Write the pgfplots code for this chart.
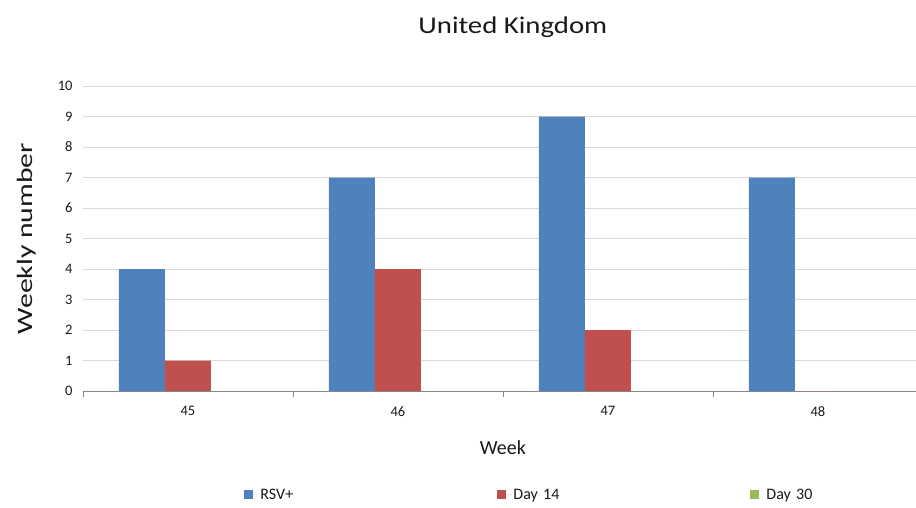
\documentclass[border=0pt]{standalone}
\usepackage{pgfplots}
\pgfplotsset{compat=1.18}
\usepackage{fontspec}
\setmainfont{Carlito}
\definecolor{cBlue}{HTML}{4F81BD}
\definecolor{cRed}{HTML}{C0504D}
\definecolor{cGreen}{HTML}{9BBB59}
\definecolor{cGrid}{HTML}{D9D9D9}
\definecolor{cAxis}{HTML}{878787}
\begin{document}
\begin{tikzpicture}
\useasboundingbox (-83pt,-116pt) rectangle (833pt,391pt);
\begin{axis}[
  scale only axis,
  width=833pt, height=305pt,
  ybar, bar width=46pt, ybar=0pt,
  xmin=-0.5, xmax=3.467,
  ymin=0, ymax=10,
  ytick={0,1,...,10},
  xtick={0,1,2,3},
  xticklabels={45,46,47,48},
  extra x ticks={-0.5,0.5,1.5,2.5},
  extra x tick labels={},
  extra x tick style={major tick length=6pt, tick align=outside, grid=none, tick style={cAxis, line width=0.8pt}},
  axis lines*=left,
  x axis line style={cAxis, line width=0.8pt, -},
  y axis line style={draw=none},
  major tick length=0pt,
  ymajorgrids,
  grid style={cGrid, line width=0.8pt},
  /pgf/number format/assume math mode=true,
  tick label style={font=\fontsize{14.5}{16}\selectfont, text=black!90},
  y tick label style={xshift=-7pt},
  x tick label style={yshift=-12pt},
  legend style={at={(rel axis cs:0.1936,-0.340)}, anchor=west, draw=none, fill=none,
    legend columns=3, inner sep=0pt,
    font=\fontsize{16}{18}\selectfont,
    nodes={text width=235pt, align=left, text=black!90}},
  legend image code/.code={\fill[#1] (0pt,-4pt) rectangle (9pt,5pt);\path (0pt,0pt) -- (14pt,0pt);},
  clip=false,
]
\addplot[fill=cBlue, draw=none] coordinates {(0,4) (1,7) (2,9) (3,7)};
\addplot[fill=cRed, draw=none] coordinates {(0,1) (1,4) (2,2) (3,0)};
\addplot[fill=cGreen, draw=none] coordinates {(0,0) (1,0) (2,0) (3,0)};
\legend{RSV+, Day 14, Day 30}
\node[font=\fontsize{24}{28}\selectfont, text=black!90] at (rel axis cs:0.516,1.193) {\scalebox{1.2}[1]{United Kingdom}};
\node[font=\fontsize{20}{24}\selectfont, text=black!90] at (rel axis cs:0.504,-0.184) {Week};
\node[font=\fontsize{22}{26}\selectfont, text=black!90, rotate=90] at (rel axis cs:-0.068,0.5) {\scalebox{1.35}[1]{Weekly number}};
\end{axis}
\end{tikzpicture}
\end{document}
